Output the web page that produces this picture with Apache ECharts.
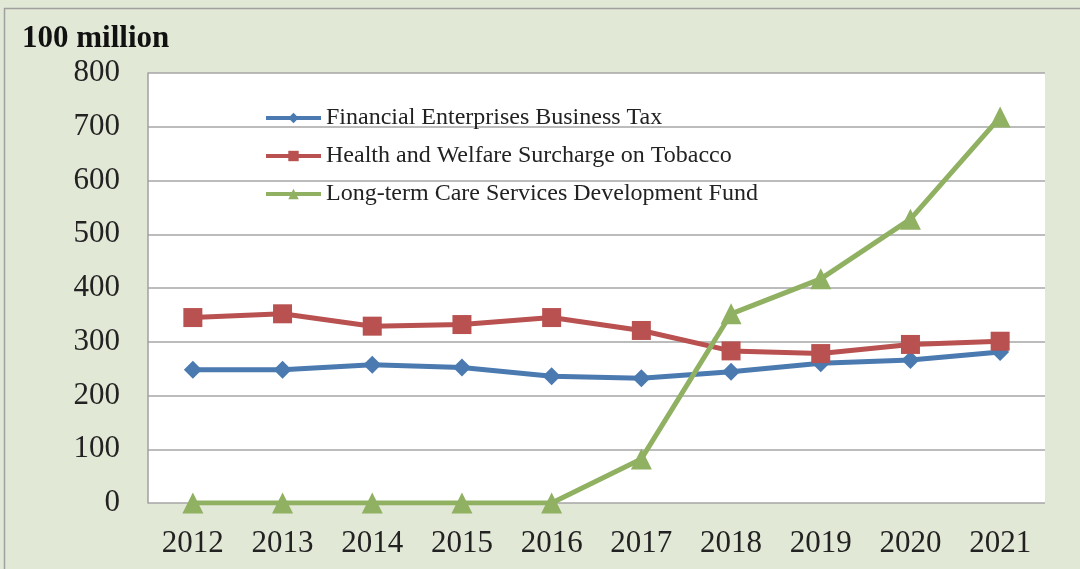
<!DOCTYPE html>
<html>
<head>
<meta charset="utf-8">
<script src="https://cdn.jsdelivr.net/npm/echarts@6/dist/echarts.min.js"></script>
<style>
  html, body { margin: 0; padding: 0; background: #e2e8d6; }
  #chart { width: 1080px; height: 569px; }
</style>
</head>
<body>
<div id="chart"></div>
<script>
// years on the x axis
const years = ['2012', '2013', '2014', '2015', '2016', '2017', '2018', '2019', '2020', '2021'];
// values, unit: 100 million
const financialTax = [248, 248, 257, 252, 236, 232, 244, 260, 266, 281];
const tobaccoSurcharge = [345, 352, 329, 332, 345, 321, 283, 278, 295, 301];
const longTermCareFund = [0, 0, 0, 0, 0, 82, 352, 417, 528, 718];
const seriesNames = [
    'Financial Enterprises Business Tax',
    'Health and Welfare Surcharge on Tobacco',
    'Long-term Care Services Development Fund'
];

const font = 'Liberation Serif, Times New Roman, serif';
const chart = echarts.init(document.getElementById('chart'));

const lineSeries = (name, data, color, symbol, size) => ({
    name: name,
    type: 'line',
    data: data,
    symbol: symbol,
    symbolSize: size,
    lineStyle: { width: 5, color: color },
    itemStyle: { color: color },
    emphasis: { disabled: true }
});

chart.setOption({
    backgroundColor: '#e2e8d6',
    animation: false,
    graphic: [{
        type: 'rect',
        shape: { x: 4.5, y: 8.5, width: 1090, height: 580 },
        style: { fill: 'none', stroke: '#a0a0a0', lineWidth: 1.5 }
    }, {
        type: 'text',
        left: 22,
        top: 23,
        style: { text: '100 million', font: 'bold 31px ' + font, fill: '#111' }
    }],
    grid: {
        left: 148, right: 35, top: 73, bottom: 66,
        show: true, backgroundColor: '#fff', borderWidth: 0
    },
    legend: {
        orient: 'vertical',
        left: 264,
        top: 106,
        padding: 0,
        itemWidth: 55,
        itemHeight: 13,
        itemGap: 14,
        lineStyle: { width: 4 },
        textStyle: { fontFamily: font, fontSize: 24, color: '#222' },
        data: seriesNames
    },
    xAxis: {
        type: 'category',
        data: years,
        boundaryGap: true,
        axisLine: { show: false },
        axisTick: { show: false },
        axisLabel: { fontFamily: font, fontSize: 31, color: '#222', margin: 25 }
    },
    yAxis: {
        type: 'value',
        min: 0, max: 800, interval: 100,
        axisLine: { show: true, lineStyle: { color: '#a0a0a0', width: 1.5 } },
        axisTick: { show: false },
        splitLine: { lineStyle: { color: '#a6a6a6', width: 1.5 } },
        axisLabel: { fontFamily: font, fontSize: 31, color: '#222', margin: 28 }
    },
    series: [
        lineSeries(seriesNames[0], financialTax, '#4a7ab0', 'diamond', 18),
        lineSeries(seriesNames[1], tobaccoSurcharge, '#b85150', 'rect', 19),
        lineSeries(seriesNames[2], longTermCareFund, '#90b062', 'triangle', 21)
    ]
});
</script>
</body>
</html>
